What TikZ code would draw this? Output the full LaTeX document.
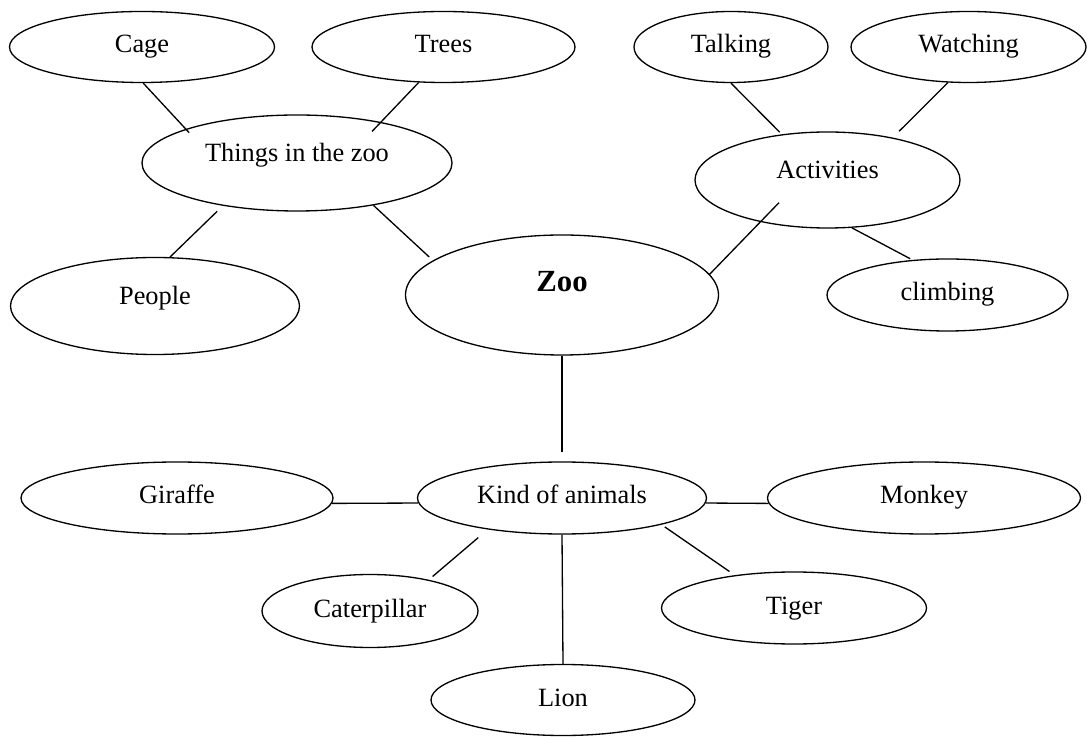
\documentclass[tikz,border=0pt]{standalone}
\usepackage{fontspec}
\setmainfont{Liberation Serif}
\usepackage{tikz}
\usetikzlibrary{positioning,calc,shapes.geometric}

\begin{document}
\begin{tikzpicture}[
		bubble/.style={ellipse, draw, line width=0.75pt, inner sep=0pt, font=\fontsize{15}{18}\selectfont, text height=0.36cm, text depth=0.12cm},
		upper/.style={bubble, text depth=0.42cm},
		hub/.style={bubble, font=\fontsize{17.5}{20}\selectfont\bfseries, text depth=0.50cm},
		link/.style={line width=0.75pt}
		]
		\useasboundingbox (0,0) rectangle (21.74,14.72);
		
		% ===== CENTRE =====
		\node[hub, minimum width=6.26cm, minimum height=2.40cm] (zoo) at (11.24,8.82) {Zoo};
		
		% ===== THINGS IN THE ZOO (upper left) =====
		\node[upper, minimum width=6.20cm, minimum height=1.92cm] (things) at (5.94,11.46) {Things in the zoo};
		\node[bubble, minimum width=5.30cm, minimum height=1.42cm] (cage)   at (2.84,13.78) {Cage};
		\node[bubble, minimum width=5.26cm, minimum height=1.42cm] (trees)  at (8.87,13.78) {Trees};
		\node[upper, minimum width=5.78cm, minimum height=1.94cm]  (people) at (3.10,8.60)  {People};
		
		% ===== ACTIVITIES (upper right) =====
		\node[upper, minimum width=5.30cm, minimum height=1.92cm]  (act)      at (16.55,11.12) {Activities};
		\node[bubble, minimum width=3.88cm, minimum height=1.42cm] (talking)  at (14.62,13.78) {Talking};
		\node[bubble, minimum width=4.70cm, minimum height=1.42cm] (watching) at (19.37,13.78) {Watching};
		\node[bubble, minimum width=4.82cm, minimum height=1.44cm] (climbing) at (18.95,8.82)  {climbing};
		
		% ===== KIND OF ANIMALS (bottom) =====
		\node[bubble, minimum width=5.78cm, minimum height=1.44cm] (kind)    at (11.24,4.76) {Kind of animals};
		\node[bubble, minimum width=6.24cm, minimum height=1.44cm] (giraffe) at (3.54,4.76)  {Giraffe};
		\node[bubble, minimum width=6.26cm, minimum height=1.44cm] (monkey)  at (18.48,4.76) {Monkey};
		\node[bubble, minimum width=4.32cm, minimum height=1.46cm] (cater)   at (7.40,2.50)  {Caterpillar};
		\node[bubble, minimum width=5.30cm, minimum height=1.44cm] (tiger)   at (15.88,2.56) {Tiger};
		\node[bubble, minimum width=5.28cm, minimum height=1.42cm] (lion)    at (11.26,0.72) {Lion};
		
		% ===== LINKS =====
		\draw[link, shorten >=-0.10cm] (cage.-88) -- (things.163);
		\draw[link, shorten >=-0.26cm] (trees.-125) -- (things.26);
		\draw[link, shorten <=0.16cm] (things.-150) -- (people.73);
		\draw[link, shorten >=0.10cm] (things.-29) -- (zoo.165);
		
		\draw[link, shorten >=0.06cm] (talking.south) -- (act.135);
		\draw[link, shorten >=0.18cm] (watching.-120) -- (act.33);
		\draw[link, shorten <=-0.54cm] (act.-148) -- (zoo.8);
		\draw[link, shorten >=0.05cm] (act.-63) -- (climbing.135);
		
		\draw[link, shorten >=0.18cm] (zoo.south) -- (kind.north);
		\draw[link] (giraffe.-2) -- (kind.182);
		\draw[link] (kind.-2) -- (monkey.182);
		\draw[link, shorten <=0.25cm, shorten >=0.10cm] (kind.-157) -- (cater.28);
		\draw[link] (kind.south) -- (lion.north);
		\draw[link, shorten <=0.08cm, shorten >=0.13cm] (kind.-15) -- (tiger.151);
		
\end{tikzpicture}
\end{document}
